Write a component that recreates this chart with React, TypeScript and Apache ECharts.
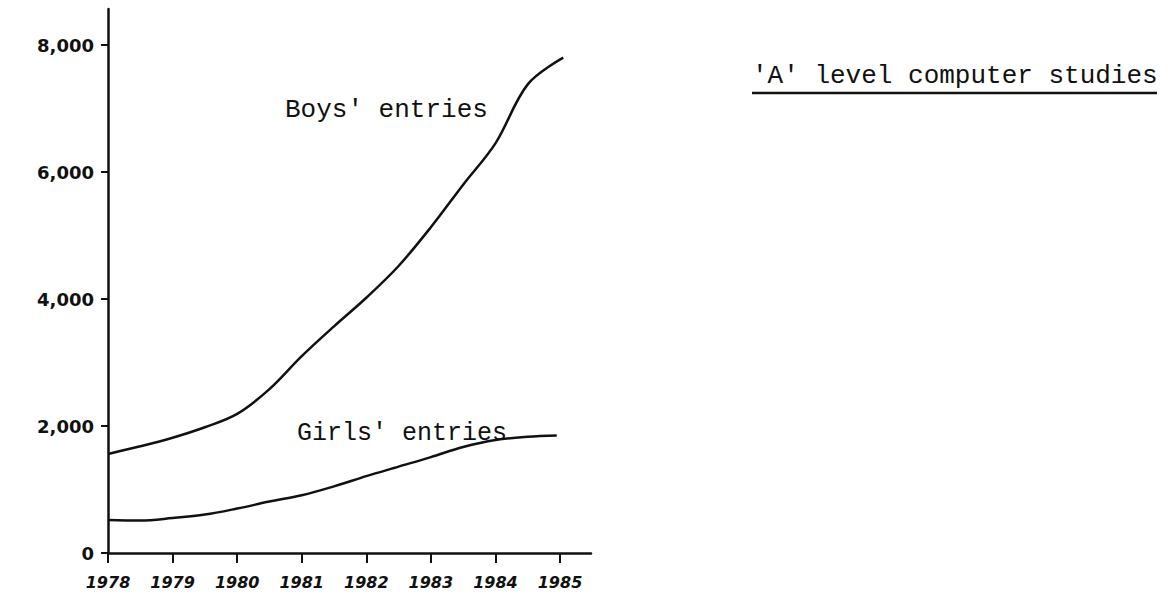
import React, { useEffect, useRef } from "react";
import * as echarts from "echarts";

const years = [1978, 1979, 1980, 1981, 1982, 1983, 1984, 1985];
const yTicks = [0, 2000, 4000, 6000, 8000];

// [year, entries]
const boysEntries: [number, number][] = [
  [1978, 1560], [1978.5, 1680], [1979, 1815], [1979.5, 1980], [1980, 2190],
  [1980.5, 2580], [1981, 3100], [1981.5, 3570], [1982, 4020], [1982.5, 4520],
  [1983, 5130], [1983.5, 5800], [1984, 6450], [1984.5, 7380], [1985.05, 7800],
];
const girlsEntries: [number, number][] = [
  [1978, 520], [1978.5, 510], [1979, 550], [1979.5, 605], [1980, 700],
  [1980.5, 810], [1981, 910], [1981.5, 1050], [1982, 1210], [1982.5, 1360],
  [1983, 1510], [1983.5, 1670], [1984, 1780], [1984.5, 1830], [1984.95, 1850],
];

const titleText = "'A' level computer studies";
const boysLabel = "Boys' entries";
const girlsLabel = "Girls' entries";

export default function App() {
  const ref = useRef<HTMLDivElement>(null);
  useEffect(() => {
    if (!ref.current) return;
    const chart = echarts.init(ref.current, null, { renderer: "svg" });
    const ink = "#111";
    const handFont = { fontFamily: "DejaVu Sans", fontWeight: "bold" as const, color: ink };
    const typeFont = { fontFamily: "Liberation Mono", fill: ink };
    chart.setOption({
      animation: false,
      backgroundColor: "#fff",
      grid: { left: 108, top: 9, width: 483, height: 544, containLabel: false },
      xAxis: {
        type: "value",
        min: 1978,
        max: 1985.48,
        interval: 1,
        splitLine: { show: false },
        axisLine: { lineStyle: { color: ink, width: 2.5 } },
        axisTick: { show: true, length: 10, customValues: years, lineStyle: { color: ink, width: 2 } },
        axisLabel: {
          customValues: years,
          margin: 21,
          fontSize: 16,
          fontStyle: "italic",
          ...handFont,
          formatter: (v: number) => String(v),
        },
      },
      yAxis: {
        type: "value",
        min: 0,
        max: 8567,
        interval: 2000,
        splitLine: { show: false },
        axisLine: { show: true, lineStyle: { color: ink, width: 2.5 } },
        axisTick: { show: true, length: 7, customValues: yTicks, lineStyle: { color: ink, width: 2 } },
        axisLabel: {
          customValues: yTicks,
          margin: 14,
          fontSize: 18,
          ...handFont,
          formatter: (v: number) => v.toLocaleString("en-US"),
        },
      },
      series: [
        {
          name: boysLabel,
          type: "line",
          data: boysEntries,
          smooth: 0.35,
          showSymbol: false,
          lineStyle: { color: ink, width: 2.5 },
        },
        {
          name: girlsLabel,
          type: "line",
          data: girlsEntries,
          smooth: 0.35,
          showSymbol: false,
          lineStyle: { color: ink, width: 2.5 },
        },
      ],
      graphic: [
        {
          type: "text",
          left: 285,
          top: 97,
          style: { text: boysLabel, fontSize: 26, ...typeFont },
        },
        {
          type: "text",
          left: 297,
          top: 421,
          style: { text: girlsLabel, fontSize: 25, ...typeFont },
        },
        {
          type: "text",
          left: 752,
          top: 63,
          style: { text: titleText, fontSize: 26, ...typeFont },
        },
        {
          type: "line",
          shape: { x1: 752, y1: 93, x2: 1157, y2: 93 },
          style: { stroke: ink, lineWidth: 2.5 },
        },
      ],
    });
    return () => chart.dispose();
  }, []);
  return (
    <div
      ref={ref}
      style={{ position: "fixed", left: 0, top: 0, width: 1168, height: 598, background: "#fff" }}
    />
  );
}
